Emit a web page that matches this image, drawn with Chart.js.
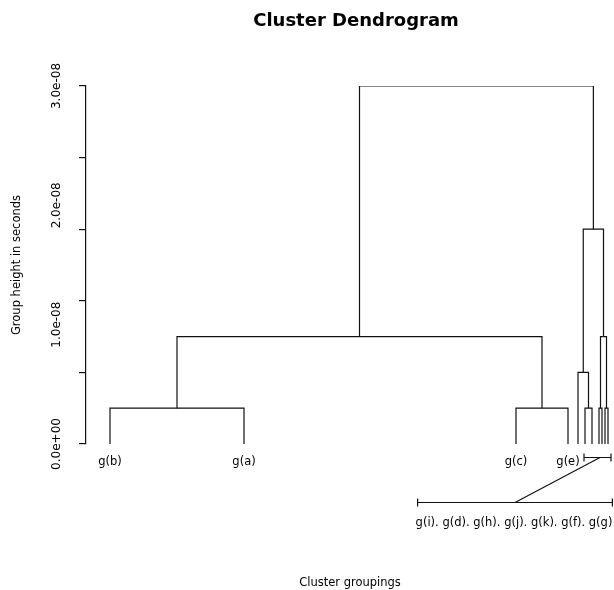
<!DOCTYPE html>
<html>
<head>
<meta charset="utf-8">
<script src="https://cdn.jsdelivr.net/npm/chart.js@4/dist/chart.umd.min.js"></script>
<style>
  html, body { margin: 0; padding: 0; background: #fff; }
  canvas { display: block; }
</style>
</head>
<body>
<canvas id="dendro" width="614" height="590"></canvas>
<script>
// Leaves, left to right, and their place on the x axis
const leafLabels = ["g(b)", "g(a)", "g(c)", "g(e)", "g(i)", "g(d)", "g(h)", "g(j)", "g(k)", "g(f)", "g(g)"];
const leafPos = [24, 158, 430, 482, 492, 499, 506, 513, 516, 519, 522];

// Merges, hclust style: negative = leaf (1-based), positive = earlier merge
const mergeLeft = [-1, -3, -6, -8, -10, -5, 4, 1, 6, 8];
const mergeRight = [-2, -4, -7, -9, -11, 3, 5, 2, 7, 9];
const mergeHeight = [0.3e-8, 0.3e-8, 0.3e-8, 0.3e-8, 0.3e-8, 0.6e-8, 0.9e-8, 0.9e-8, 1.8e-8, 3.0e-8];

// y axis: tick marks and labels do not line up in the original
const yTickMarks = [0, 0.6e-8, 1.2e-8, 1.8e-8, 2.4e-8, 3.0e-8];
const yLabelValues = [0, 1.0e-8, 2.0e-8, 3.0e-8];
const yLabels = ["0.0e+00", "1.0e-08", "2.0e-08", "3.0e-08"];

// Leaves too crowded to label one by one (indexes into leafLabels)
const collapsedLeaves = [4, 5, 6, 7, 8, 9, 10];

const FONT = "DejaVu Sans";
const Y_MAX = 3e-8;

// Build the dendrogram segments
const nodes = [];
const node = (i) => (i < 0 ? { x: leafPos[-i - 1], y: 0 } : nodes[i - 1]);
const datasets = [];
mergeHeight.forEach((h, i) => {
  const a = node(mergeLeft[i]);
  const b = node(mergeRight[i]);
  nodes.push({ x: (a.x + b.x) / 2, y: h });
  datasets.push({
    data: [
      { x: a.x, y: a.y },
      { x: a.x, y: h },
      { x: b.x, y: h },
      { x: b.x, y: b.y },
    ],
    showLine: true,
    borderColor: "#111",
    borderWidth: 1.2,
    pointRadius: 0,
    tension: 0,
    fill: false,
  });
});

// Bracket + leader line for the collapsed labels
const callout = {
  id: "callout",
  afterLayout(chart) {
    // centre the title over the full plot region, which runs past the canvas edge
    chart.titleBlock.right += 12;
  },
  afterDraw(chart) {
    const { ctx } = chart;
    const xs = chart.scales.x;
    const ys = chart.scales.y;
    const base = ys.getPixelForValue(0);
    const text = collapsedLeaves.map((i) => leafLabels[i]).join(". ");

    ctx.save();
    ctx.strokeStyle = "#111";
    ctx.lineWidth = 1.2;
    ctx.font = "11.5px '" + FONT + "'";
    const w = ctx.measureText(text).width;

    const bracket = (x1, x2, y) => {
      ctx.beginPath();
      ctx.moveTo(x1, y);
      ctx.lineTo(x2, y);
      ctx.moveTo(x1, y - 4);
      ctx.lineTo(x1, y + 4);
      ctx.moveTo(x2, y - 4);
      ctx.lineTo(x2, y + 4);
      ctx.stroke();
    };

    // small bracket under the crowded leaves
    const upY = base + 13.5;
    const ux1 = xs.getPixelForValue(leafPos[collapsedLeaves[1]]) - 1;
    const ux2 = xs.getPixelForValue(leafPos[collapsedLeaves[collapsedLeaves.length - 1]]) + 3;
    bracket(ux1, ux2, upY);

    // long bracket that carries the joined labels
    const lowY = base + 58.5;
    const cx = xs.getPixelForValue(leafPos[2]) - 2;
    bracket(cx - w / 2 + 2, cx + w / 2, lowY);

    // leader line
    ctx.beginPath();
    ctx.moveTo(xs.getPixelForValue(leafPos[collapsedLeaves[4]]) - 2, upY);
    ctx.lineTo(cx + 1, lowY);
    ctx.stroke();

    ctx.fillStyle = "#000";
    ctx.textAlign = "center";
    ctx.textBaseline = "alphabetic";
    ctx.fillText(text, cx, lowY + 23.5);
    ctx.restore();
  },
};

new Chart(document.getElementById("dendro"), {
  type: "scatter",
  data: { datasets },
  plugins: [callout],
  options: {
    responsive: false,
    animation: false,
    events: [],
    devicePixelRatio: 1,
    layout: { padding: 0 },
    plugins: {
      legend: { display: false },
      tooltip: { enabled: false },
      title: {
        display: true,
        text: "Cluster Dendrogram",
        fullSize: false,
        color: "#000",
        font: { family: FONT, size: 18, weight: "bold" },
        padding: { top: 11, bottom: 53.4 },
      },
    },
    scales: {
      x: {
        type: "linear",
        min: 0,
        max: 528,
        afterBuildTicks: (scale) => {
          scale.ticks = leafPos.map((v) => ({ value: v }));
        },
        afterFit: (scale) => {
          scale.height = 146;
          scale.paddingLeft = 0;
          scale.paddingRight = 0;
        },
        grid: { display: false, drawTicks: false, tickLength: 0 },
        border: { display: false },
        ticks: {
          autoSkip: false,
          maxRotation: 0,
          minRotation: 0,
          padding: 11,
          color: "#000",
          font: { family: FONT, size: 11.5 },
          callback: (v, i) => (collapsedLeaves.includes(i) ? "" : leafLabels[i]),
        },
        title: {
          display: true,
          text: "Cluster groupings",
          color: "#000",
          font: { family: FONT, size: 11.5 },
          padding: { top: 0, bottom: 0 },
        },
      },
      // axis line and tick marks
      y: {
        position: "left",
        weight: 0,
        min: 0,
        max: Y_MAX,
        afterBuildTicks: (scale) => {
          scale.ticks = yTickMarks.map((v) => ({ value: v }));
        },
        afterFit: (scale) => {
          scale.width = 8;
        },
        grid: {
          drawOnChartArea: false,
          drawTicks: true,
          tickLength: 7,
          color: "#111",
          lineWidth: 1.2,
        },
        border: { display: true, color: "#111", width: 1.2 },
        ticks: { display: false },
      },
      // tick labels and axis title
      yLab: {
        position: "left",
        weight: 1,
        min: 0,
        max: Y_MAX,
        afterBuildTicks: (scale) => {
          scale.ticks = yLabelValues.map((v) => ({ value: v }));
        },
        afterFit: (scale) => {
          scale.width = 78;
        },
        grid: { display: false, drawTicks: false, tickLength: 0 },
        border: { display: false },
        ticks: {
          minRotation: 90,
          maxRotation: 90,
          crossAlign: "center",
          padding: -5,
          color: "#000",
          font: { family: FONT, size: 12 },
          callback: (v, i) => yLabels[i],
        },
        title: {
          display: true,
          text: "Group height in seconds",
          color: "#000",
          font: { family: FONT, size: 11.5 },
          padding: { top: 10, bottom: 0 },
        },
      },
    },
  },
});
</script>
</body>
</html>
